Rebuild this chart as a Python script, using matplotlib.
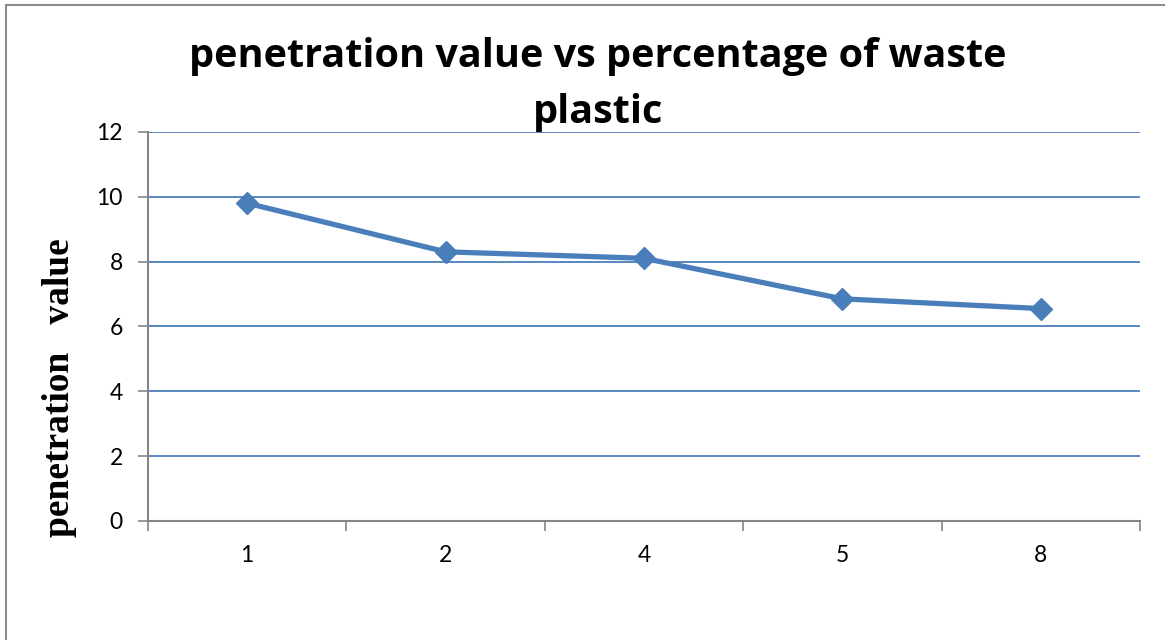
import matplotlib.pyplot as plt
from matplotlib.patches import Rectangle

categories = ['1', '2', '4', '5', '8']
penetration = [9.8, 8.3, 8.1, 6.85, 6.55]
y_ticks = [0, 2, 4, 6, 8, 10, 12]

fig = plt.figure(figsize=(11.65, 6.4), dpi=100)
ax = fig.add_axes([0.127, 0.186, 0.8515, 0.608])

# outer chart border (left and top edges visible)
fig.patches.append(Rectangle((6 / 1165, -0.1), 1.2, 1 - 5 / 640 + 0.1,
                             transform=fig.transFigure, fill=False,
                             edgecolor='#8c8c8c', linewidth=1.5))

x = list(range(len(categories)))
ax.plot(x, penetration, color='#4a7ebb', linewidth=3.8, marker='D',
        markersize=11, markerfacecolor='#4a7ebb', markeredgecolor='#4a7ebb',
        zorder=3, solid_capstyle='round')

ax.set_xlim(-0.5, len(categories) - 0.5)
ax.set_ylim(0, 12)
ax.set_yticks(y_ticks)
ax.set_yticklabels([str(v) for v in y_ticks], fontsize=16.5, family='Lato')
ax.set_xticks(x)
ax.set_xticklabels(categories, fontsize=16.5, family='Lato')
ax.set_xticks([i - 0.5 for i in range(len(categories) + 1)], minor=True)
ax.tick_params(axis='x', which='major', length=0, pad=17)
ax.tick_params(axis='x', which='minor', length=7, width=1.2,
               color='#868686', direction='out')
ax.tick_params(axis='y', length=7, width=1.2, color='#868686', pad=11)

ax.grid(axis='y', color='#4a7ebb', linewidth=1.3)
ax.set_axisbelow(True)
for side in ('top', 'right'):
    ax.spines[side].set_visible(False)
for side in ('left', 'bottom'):
    ax.spines[side].set_color('#868686')
    ax.spines[side].set_linewidth(1.5)
ax.spines['bottom'].set_zorder(2.5)

fig.text(0.513, 0.868, 'penetration value vs percentage of waste\nplastic',
         ha='center', va='center', fontsize=28.5, fontweight='bold',
         family='Open Sans', linespacing=1.55)
fig.text(0.051, 0.394, 'penetration   value', rotation=90, ha='center',
         va='center', fontsize=27, fontweight='bold',
         family='Liberation Serif')

fig.savefig('out.png', dpi=100)
